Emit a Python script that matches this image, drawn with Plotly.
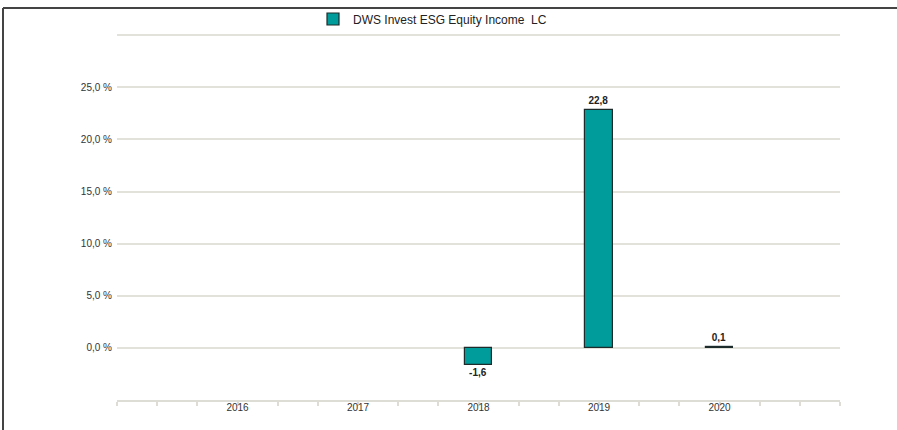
import plotly.graph_objects as go

years = [2016, 2017, 2018, 2019, 2020]
returns = [None, None, -1.6, 22.8, 0.1]
series_name = "DWS Invest ESG Equity Income  LC"
y_ticks = [-5, 0, 5, 10, 15, 20, 25, 30]
y_labels = ["", "0,0 %", "5,0 %", "10,0 %", "15,0 %", "20,0 %", "25,0 %", ""]

W, H = 897, 430
L, R, T, B = 117, 57, 32, 30
pw, ph = W - L - R, H - T - B

fig = go.Figure()
fig.add_trace(go.Bar(
    x=years, y=returns, name=series_name, width=0.225,
    marker=dict(color="#009c9c", line=dict(color="#1d2b2b", width=1.2)),
    texttemplate="%{y:.1f}", textposition="outside", cliponaxis=False,
    textfont=dict(family="Liberation Sans, Arial", size=10, color="#222222", weight="bold"),
    showlegend=True,
))

fig.update_layout(
    width=W, height=H,
    margin=dict(l=L, r=R, t=T, b=B, autoexpand=False),
    paper_bgcolor="white", plot_bgcolor="white",
    separators=",.",
    font=dict(family="Liberation Sans, Arial", size=10, color="#333333"),
    legend=dict(orientation="h", xref="container", yref="container",
                x=313 / W, xanchor="left", y=1 - 19 / H, yanchor="middle",
                font=dict(size=12, color="#222222"),
                itemwidth=30, bgcolor="rgba(0,0,0,0)"),
    bargap=0,
    xaxis=dict(range=[2015, 2021], tickvals=years, ticktext=[str(y) for y in years],
               ticks="outside", ticklen=0, showgrid=False, zeroline=False,
               showline=True, linecolor="#deddd5", linewidth=2,
               minor=dict(tick0=2015, dtick=1/3, ticks="outside", ticklen=4,
                          tickcolor="#deddd5", tickwidth=1.5, showgrid=False),
               ticklabelstandoff=-3,
               tickfont=dict(size=10, color="#333333"), fixedrange=True),
    yaxis=dict(range=[-5, 30.3], tickvals=y_ticks, ticktext=y_labels,
               showgrid=True, gridcolor="#e2e1da", gridwidth=1.5,
               zeroline=False, showline=False, ticks="", ticklabelstandoff=4,
               tickfont=dict(size=10, color="#333333"), fixedrange=True),
)

# outer frame (top and left edges), in paper units derived from pixel positions
frame_top = (H - B - 8) / ph
frame_left = (3 - L) / pw
fig.add_shape(type="line", xref="paper", yref="paper",
              x0=frame_left, x1=(W - L) / pw, y0=frame_top, y1=frame_top,
              line=dict(color="#444444", width=2))
fig.add_shape(type="line", xref="paper", yref="paper",
              x0=frame_left, x1=frame_left, y0=-B / ph, y1=frame_top,
              line=dict(color="#444444", width=2))

fig.write_html("out.html", config={"displayModeBar": False},
               post_script="document.body.style.margin='0';")
